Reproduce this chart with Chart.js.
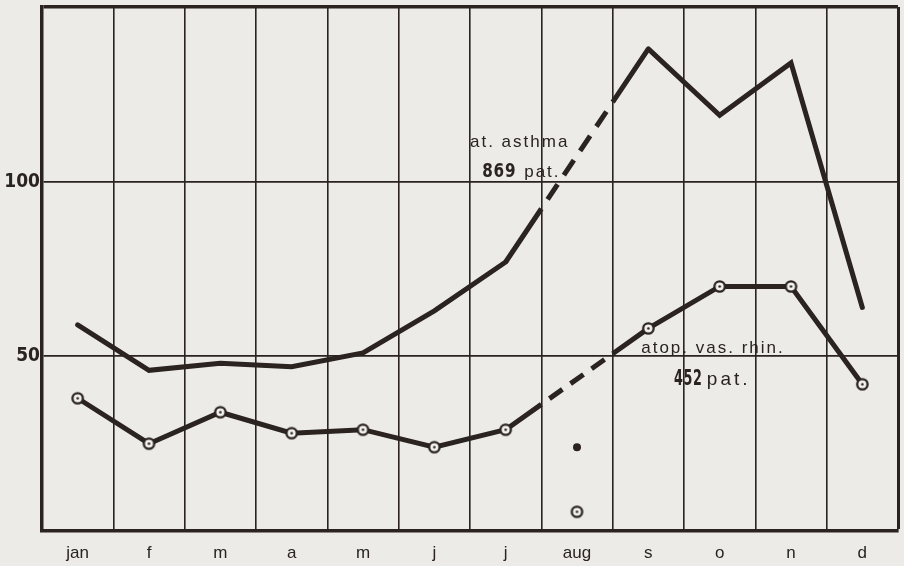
<!DOCTYPE html>
<html>
<head>
<meta charset="utf-8">
<script src="https://cdn.jsdelivr.net/npm/chart.js@4"></script>
<style>
  html, body { margin: 0; padding: 0; background: #ecebe8; }
  #wrap { width: 904px; height: 566px; }
</style>
</head>
<body>
<div id="wrap"><canvas id="chart" width="904" height="566"></canvas></div>
<script>
// DATOS
const months = ["jan", "f", "m", "a", "m", "j", "j", "aug", "s", "o", "n", "d"];
const asthma = [59, 46, 48, 47, 51, 63, 77, null, 138, 119, 134, 64];
const rhinitis = [38, 25, 34, 28, 29, 24, 29, null, 58, 70, 70, 42];
const asthmaAug = [null, null, null, null, null, null, null, 24, null, null, null, null];
const rhinitisAug = [null, null, null, null, null, null, null, 5.5, null, null, null, null];
const yTicks = [50, 100];

const INK = "#2a231f";
const PAPER = "#f3f2ef";

// marcador: circulo con punto
function ringMarker() {
  const c = document.createElement("canvas");
  c.width = 15; c.height = 15;
  const g = c.getContext("2d");
  g.beginPath(); g.arc(7.5, 7.5, 5.2, 0, Math.PI * 2);
  g.fillStyle = PAPER; g.fill();
  g.lineWidth = 2.3; g.strokeStyle = INK; g.stroke();
  g.beginPath(); g.arc(7.5, 7.5, 1.3, 0, Math.PI * 2);
  g.fillStyle = INK; g.fill();
  return c;
}
const ring = ringMarker();

// tramo sobre el hueco de agosto: solido hasta la columna, guiones dentro, solido despues
function gapDash(arr) {
  return ctx => {
    if (arr[ctx.p0DataIndex] !== null) return undefined;
    const b = ctx.p1DataIndex;
    let a = b - 1;
    while (a > 0 && arr[a] === null) a--;
    const xs = ctx.chart.scales.x, ys = ctx.chart.scales.y;
    const dx = xs.getPixelForValue(b) - xs.getPixelForValue(a);
    const dy = ys.getPixelForValue(arr[b]) - ys.getPixelForValue(arr[a]);
    const len = Math.hypot(dx, dy);
    const part = len * 0.5 / (b - a);
    const mid = len - 2 * part;
    const n = Math.max(2, Math.round(mid / 30));
    const g = mid / (1 + 2.6 * n);
    const d = 1.6 * g;
    const pat = [part, g];
    for (let i = 0; i < n; i++) pat.push(d, g);
    pat.push(part + 1000, 0);
    return pat;
  };
}
function gapCap(arr) {
  return ctx => (arr[ctx.p0DataIndex] === null ? "butt" : undefined);
}

// textos
const notes = {
  id: "notes",
  afterDatasetsDraw(chart) {
    const c = chart.ctx;
    const xs = chart.scales.x, ys = chart.scales.y;
    const px = f => xs.getPixelForValue(0) + f * (xs.getPixelForValue(1) - xs.getPixelForValue(0));
    const put = (txt, f, v, font, sp, sx) => {
      c.save();
      c.font = font;
      c.letterSpacing = sp + "px";
      c.fillStyle = INK;
      c.textAlign = "left";
      c.textBaseline = "alphabetic";
      c.translate(px(f), ys.getPixelForValue(v));
      c.scale(sx, 1);
      c.fillText(txt, 0, 0);
      c.restore();
    };
    const reg = '17px "Liberation Sans", Arial, sans-serif';
    put("at. asthma", 5.50, 110, reg, 2, 1);
    put("869", 5.67, 101.3, 'bold 19px "DejaVu Sans", sans-serif', 1, 0.8);
    put("pat.", 6.26, 101.3, reg, 2, 1);
    put("atop. vas. rhin.", 7.90, 51, reg, 2, 1);
    put("452", 8.36, 41.8, 'bold 22px "DejaVu Sans", sans-serif', 1, 0.58);
    put("pat.", 8.82, 41.8, '19px "Liberation Sans", Arial, sans-serif', 3, 1);
  }
};

new Chart(document.getElementById("chart").getContext("2d"), {
  type: "line",
  data: {
    labels: months,
    datasets: [
      {
        label: "at. asthma",
        data: asthma,
        borderColor: INK,
        borderWidth: 5,
        borderCapStyle: "round",
        borderJoinStyle: "miter",
        pointRadius: 0,
        spanGaps: true,
        tension: 0,
        segment: { borderDash: gapDash(asthma), borderCapStyle: gapCap(asthma) }
      },
      {
        label: "atop. vas. rhin.",
        data: rhinitis,
        borderColor: INK,
        borderWidth: 5,
        borderCapStyle: "round",
        borderJoinStyle: "miter",
        pointStyle: ring,
        pointRadius: 7,
        spanGaps: true,
        tension: 0,
        segment: { borderDash: gapDash(rhinitis), borderCapStyle: gapCap(rhinitis) }
      },
      {
        label: "asthma aug",
        data: asthmaAug,
        showLine: false,
        pointStyle: "circle",
        pointRadius: 4,
        pointBackgroundColor: INK,
        pointBorderWidth: 0
      },
      {
        label: "rhin aug",
        data: rhinitisAug,
        showLine: false,
        pointStyle: ring,
        pointRadius: 7
      }
    ]
  },
  options: {
    responsive: false,
    animation: false,
    devicePixelRatio: 1,
    layout: { autoPadding: false, padding: { top: 7, right: 6, left: 0, bottom: 0 } },
    plugins: { legend: { display: false }, tooltip: { enabled: false } },
    scales: {
      x: {
        offset: true,
        afterFit: s => { s.height = 35; s.paddingLeft = 0; s.paddingRight = 0; },
        grid: {
          offset: true,
          drawTicks: false,
          color: INK,
          lineWidth: ctx => (ctx.type === "scale" ? 3 : 1.6)
        },
        border: { display: true, color: INK, width: 3.5 },
        ticks: {
          padding: 12,
          color: INK,
          font: { family: '"Liberation Sans", Arial, sans-serif', size: 17 }
        }
      },
      y: {
        min: 0,
        max: 150,
        afterFit: s => { s.width = 42; s.paddingTop = 0; s.paddingBottom = 0; },
        afterBuildTicks: s => {
          s.ticks = [0].concat(yTicks, [150]).map(v => ({ value: v }));
        },
        grid: {
          drawTicks: false,
          color: INK,
          lineWidth: ctx => (ctx.tick && ctx.tick.value === 150 ? 3.5 : (ctx.tick && ctx.tick.value === 0 ? 0 : 1.8))
        },
        border: { display: true, color: INK, width: 3.5 },
        ticks: {
          padding: 2,
          color: INK,
          callback: v => (yTicks.includes(v) ? String(v) : ""),
          font: { family: '"DejaVu Sans Condensed", sans-serif', size: 19, weight: "bold" }
        }
      }
    }
  },
  plugins: [notes]
});
</script>
</body>
</html>
